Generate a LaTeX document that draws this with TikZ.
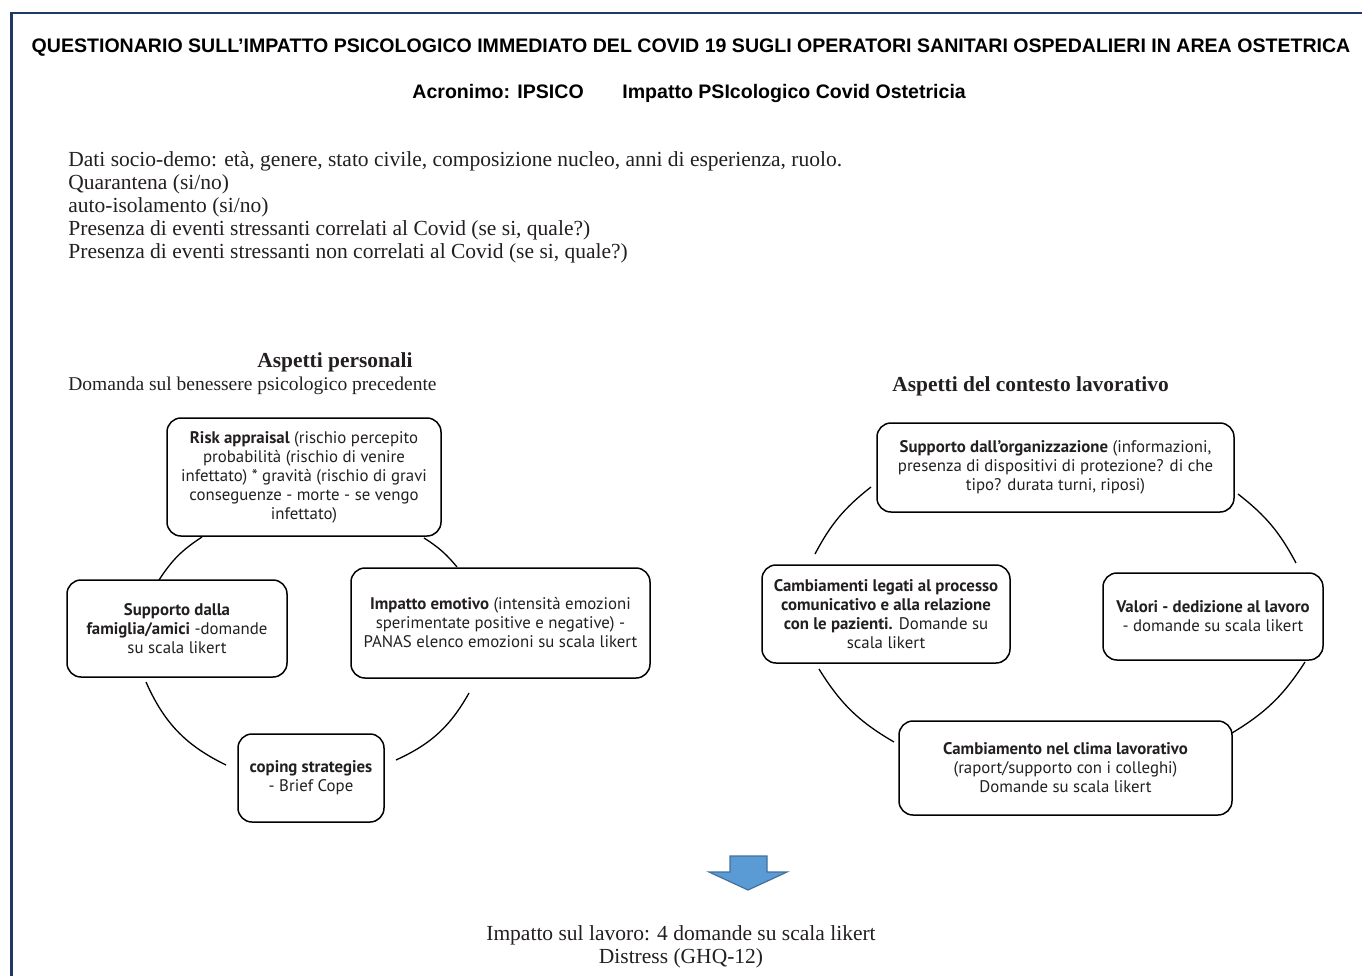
\documentclass[tikz,border=0pt]{standalone}
\usepackage{fontspec}
\setmainfont{Liberation Serif}
\newfontfamily\titlefont{Liberation Sans}
\newfontfamily\boxfont{PT Sans}
\definecolor{frame}{RGB}{31,56,100}
\definecolor{txt}{RGB}{35,31,32}
\definecolor{arrfill}{RGB}{91,155,213}
\definecolor{arrline}{RGB}{65,113,156}
\tikzset{
  box/.style={draw=black, line width=0.75pt, rounded corners=7pt, align=center,
    font=\boxfont\fontsize{8.4pt}{9.5pt}\selectfont, text=txt, inner sep=0pt},
  cyc/.style={line width=0.65pt, draw=black},
  ttl/.style={font=\titlefont\bfseries\fontsize{9.78pt}{11pt}\selectfont, text=black, inner sep=0pt},
  body/.style={font=\fontsize{10.75pt}{11.5pt}\selectfont, text=txt, inner sep=0pt},
  smallbody/.style={font=\fontsize{9.75pt}{11.5pt}\selectfont, text=txt, inner sep=0pt},
  head/.style={font=\bfseries\fontsize{10.7pt}{11.5pt}\selectfont, text=txt, inner sep=0pt}
}
\begin{document}
\begin{tikzpicture}[x=0.5pt,y=-0.5pt]
\useasboundingbox (0,0) rectangle (1362,976);
% frame
\draw[frame, line width=1.1pt] (11.5,976) -- (11.5,13) -- (1362,13);
% titles
\node[ttl, anchor=base] (title) at (691,52) {QUESTIONARIO SULL’IMPATTO PSICOLOGICO IMMEDIATO DEL COVID 19 SUGLI OPERATORI SANITARI OSPEDALIERI IN AREA OSTETRICA};
\node[ttl, anchor=base west] (acr) at (412,98) {Acronimo: IPSICO};
\node[ttl, anchor=base west] (acr2) at (622,98) {Impatto PSIcologico Covid Ostetricia};
% body
\node[body, anchor=base west] (l1) at (68,166) {Dati socio-demo: età, genere, stato civile, composizione nucleo, anni di esperienza, ruolo.};
\node[body, anchor=base west] (l2) at (68,189) {Quarantena (si/no)};
\node[body, anchor=base west] (l3) at (68,212) {auto-isolamento (si/no)};
\node[body, anchor=base west] (l4) at (68,235) {Presenza di eventi stressanti correlati al Covid (se si, quale?)};
\node[body, anchor=base west] (l5) at (68,258) {Presenza di eventi stressanti non correlati al Covid (se si, quale?)};
\node[head, anchor=base] (hp) at (335,367) {Aspetti personali};
\node[smallbody, anchor=base west] (dp) at (68,390) {Domanda sul benessere psicologico precedente};
\node[head, anchor=base west] (hl) at (892,391) {Aspetti del contesto lavorativo};
% left cycle
\node[box, minimum width=137pt, minimum height=59pt] (risk) at (304,477)
 {\textbf{Risk appraisal} (rischio percepito\\probabilità (rischio di venire\\infettato) * gravità (rischio di gravi\\conseguenze - morte - se vengo\\infettato)};
\node[box, minimum width=110pt, minimum height=48.5pt] (fam) at (177,628.5)
 {\textbf{Supporto dalla}\\\textbf{famiglia/amici} -domande\\su scala likert};
\node[box, minimum width=149.5pt, minimum height=55pt] (emo) at (500.5,623)
 {\textbf{Impatto emotivo} (intensità emozioni\\sperimentate positive e negative) -\\PANAS elenco emozioni su scala likert};
\node[box, minimum width=73pt, minimum height=44pt] (cop) at (311,778)
 {\textbf{coping strategies}\\- Brief Cope};
\coordinate (a1) at (159,580); \coordinate (a2) at (202,537);
\coordinate (a3) at (424,538); \coordinate (a4) at (457,567);
\coordinate (a5) at (469,693); \coordinate (a6) at (396,760);
\coordinate (a7) at (226,765); \coordinate (a8) at (146,682);
\draw[cyc] (a1) to[bend left=12] (a2);
\draw[cyc] (a3) to[bend left=9] (a4);
\draw[cyc] (a5) to[bend left=18] (a6);
\draw[cyc] (a7) to[bend left=20] (a8);
% right cycle
\node[box, minimum width=178.5pt, minimum height=44.5pt] (org) at (1055.5,467.5)
 {\textbf{Supporto dall’organizzazione} (informazioni,\\presenza di dispositivi di protezione? di che\\tipo? durata turni, riposi)};
\node[box, minimum width=124pt, minimum height=49pt] (com) at (886,614)
 {\textbf{Cambiamenti legati al processo}\\\textbf{comunicativo e alla relazione}\\\textbf{con le pazienti.} Domande su\\scala likert};
\node[box, minimum width=110pt, minimum height=43.5pt] (val) at (1213,616.5)
 {\textbf{Valori - dedizione al lavoro}\\- domande su scala likert};
\node[box, minimum width=166.5pt, minimum height=47pt] (cli) at (1065.5,768)
 {\textbf{Cambiamento nel clima lavorativo}\\(raport/supporto con i colleghi)\\Domande su scala likert};
\coordinate (b1) at (815,554); \coordinate (b2) at (871,487);
\coordinate (b3) at (1238,494); \coordinate (b4) at (1296,563);
\coordinate (b5) at (1305,662); \coordinate (b6) at (1232,733);
\coordinate (b7) at (894,742); \coordinate (b8) at (819,669);
\draw[cyc] (b1) to[bend left=12] (b2);
\draw[cyc] (b3) to[bend left=12] (b4);
\draw[cyc] (b5) to[bend left=13] (b6);
\draw[cyc] (b7) to[bend left=14] (b8);
% arrow
\draw[fill=arrfill, draw=arrline, line width=0.6pt, line join=miter]
  (730,856) -- (767,856) -- (767,872) -- (787,872) -- (748,890) -- (709,872) -- (730,872) -- cycle;
\node[body, anchor=base] (out1) at (681,940) {Impatto sul lavoro: 4 domande su scala likert};
\node[body, anchor=base] (out2) at (681,963) {Distress (GHQ-12)};
\end{tikzpicture}
\end{document}
